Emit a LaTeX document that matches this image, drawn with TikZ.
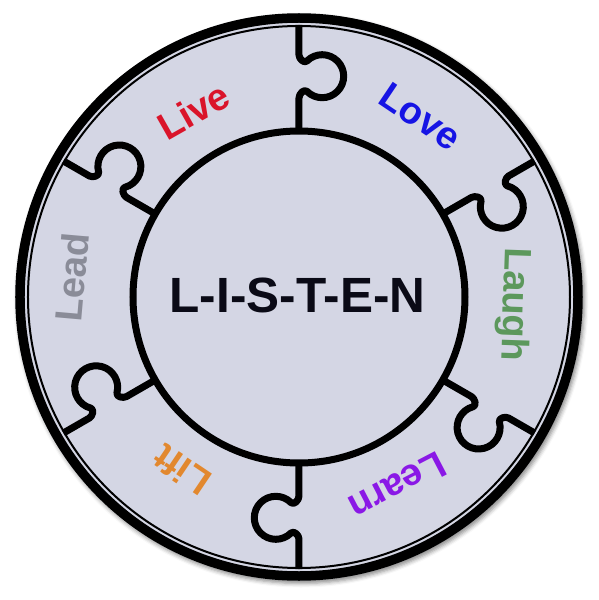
\documentclass[tikz,border=0pt]{standalone}
\usepackage{fontspec}
\setmainfont{Liberation Sans}
\usetikzlibrary{shadows.blur}
\definecolor{ringfill}{RGB}{212,214,228}
\definecolor{cLive}{RGB}{218,20,42}
\definecolor{cLove}{RGB}{22,20,228}
\definecolor{cLaugh}{RGB}{92,152,92}
\definecolor{cLearn}{RGB}{138,24,230}
\definecolor{cLift}{RGB}{226,136,46}
\definecolor{cLead}{RGB}{138,140,152}
\definecolor{cCenter}{RGB}{10,10,22}
\begin{document}
\begin{tikzpicture}[x=1pt,y=1pt,
  boundary/.style={line width=7pt, line join=round, line cap=butt},
  lbl/.style={font=\bfseries\fontsize{38}{38}\selectfont, inner sep=0pt, text height=27pt, text depth=0pt, anchor=center},
  centertext/.style={font=\bfseries\fontsize{49.5}{50}\selectfont, inner sep=0pt, text height=35.5pt, text depth=0pt, text=cCenter}]
\useasboundingbox (-299pt,-303pt) rectangle (299pt,297pt);
% background disc with soft shadow
\fill[ringfill, blur shadow={shadow xshift=2pt, shadow yshift=-3pt, shadow blur radius=4pt, shadow opacity=45}] (0,0) circle (283.5pt);
\draw[line width=9.5pt] (0,0) circle (279pt);
\draw[line width=2pt] (0,0) circle (271pt);
% puzzle boundaries
\foreach \a in {0,-60,-120,-180,-240,-300}{
  \draw[boundary, rotate=\a]
    (0,160) -- (0,199)
    .. controls (0,203.1) and (5.1,208.5) .. (8,205.6)
    arc[start angle=225, end angle=495, radius=21.5pt]
    .. controls (5.24,233.24) and (0,238.1) .. (0,242)
    -- (0,272);
}
% inner circle
\draw[line width=7pt, fill=ringfill] (0,0) circle (166pt);
% texts
\node[centertext] (listen) at (-1.5pt,2pt) {L-I-S-T-E-N};
\node[lbl, text=cLive,  rotate=29.5]  (live)  at (119.5:214pt) {Live};
\node[lbl, text=cLove,  rotate=-34]   (love)  at (56:218pt)    {Love};
\node[lbl, text=cLaugh, rotate=-92]   (laugh) at (-2:218pt)    {Laugh};
\node[lbl, text=cLearn, rotate=207.5] (learn) at (297.5:214pt) {Learn};
\node[lbl, text=cLift,  rotate=146]   (lift)  at (236:209pt)   {Lift};
\node[lbl, text=cLead,  rotate=85]    (lead)  at (175:228pt)   {Lead};
\end{tikzpicture}
\end{document}
